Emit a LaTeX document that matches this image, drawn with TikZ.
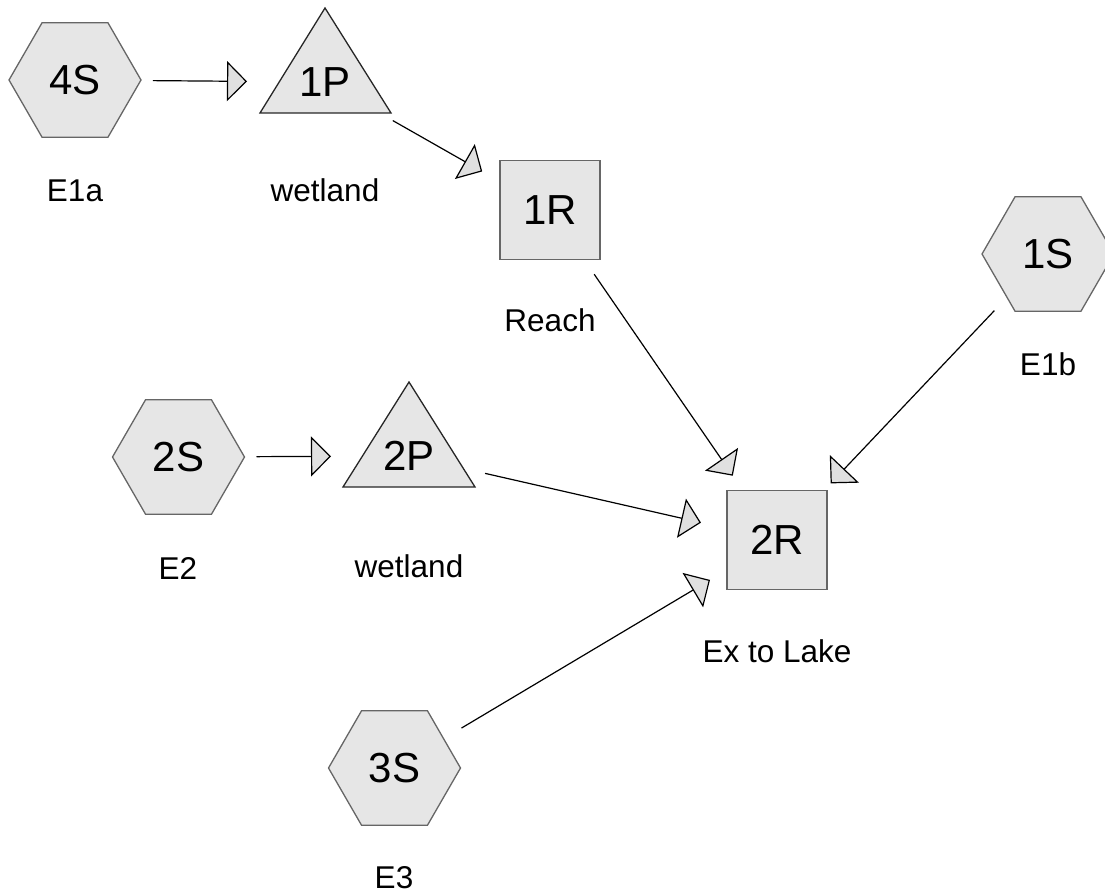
\documentclass[tikz,border=0pt]{standalone}
\usepackage{fontspec}
\setmainfont{Liberation Sans}
\usetikzlibrary{shapes.geometric,arrows.meta,calc}
\definecolor{shapefill}{HTML}{E6E6E6}
\definecolor{tipfill}{HTML}{E0E0E0}
\definecolor{edgegray}{HTML}{666666}
\tikzset{
  hexa/.style={regular polygon, regular polygon sides=6, minimum size=132pt, inner sep=0pt,
    draw=edgegray, fill=shapefill, line width=1.3pt, font=\fontsize{42}{46}\selectfont},
  sqr/.style={rectangle, minimum width=100pt, minimum height=99pt, inner sep=0pt,
    draw=edgegray, fill=shapefill, line width=1.3pt, font=\fontsize{42}{46}\selectfont},
  tritxt/.style={inner sep=0pt, font=\fontsize{42}{46}\selectfont},
  trishape/.style={draw=black!85, fill=shapefill, line width=1.3pt, line join=miter},
  lbl/.style={inner sep=0pt, font=\fontsize{31.5}{34}\selectfont},
  arr/.style={line width=1.2pt, shorten <=78pt, shorten >=78pt,
    -{Triangle[length=20pt, width=40pt, fill=tipfill]}},
}
\begin{document}
\begin{tikzpicture}[x=1pt, y=-1pt]
\useasboundingbox (0,0) rectangle (1105,896);
\clip (0,0) rectangle (1105,896);
% triangles (wetlands)
\draw[trishape] (325,8) -- (391,113) -- (260,113) -- cycle;
\draw[trishape] (409,382) -- (475,487) -- (343,487) -- cycle;
% nodes
\node[hexa] (s4) at (75,80) {4S};
\node[tritxt] (p1) at (325,82) {1P};
\node[sqr] (r1) at (550,210) {1R};
\node[hexa] (s1) at (1048,254) {1S};
\node[hexa] (s2) at (178.5,457) {2S};
\node[tritxt] (p2) at (409,456) {2P};
\node[sqr] (r2) at (777,540) {2R};
\node[hexa] (s3) at (394.5,768) {3S};
% labels
\node[lbl] (l4s) at (75,191) {E1a};
\node[lbl] (l1p) at (325,190) {wetland};
\node[lbl] (l1r) at (550,320) {Reach};
\node[lbl] (l1s) at (1048,364) {E1b};
\node[lbl] (l2s) at (178,568) {E2};
\node[lbl] (l2p) at (409,566) {wetland};
\node[lbl] (l2r) at (777,651) {Ex to Lake};
\node[lbl] (l3s) at (394,878) {E3};
% connectors
\draw[arr] (s4.center) -- (p1.center);
\draw[arr] (p1.center) -- (r1.center);
\draw[arr] (r1.center) -- (r2.center);
\draw[arr] (s1.center) -- (r2.center);
\draw[arr] (s2.center) -- (p2.center);
\draw[arr] (p2.center) -- (r2.center);
\draw[arr] (s3.center) -- (r2.center);
\end{tikzpicture}
\end{document}
